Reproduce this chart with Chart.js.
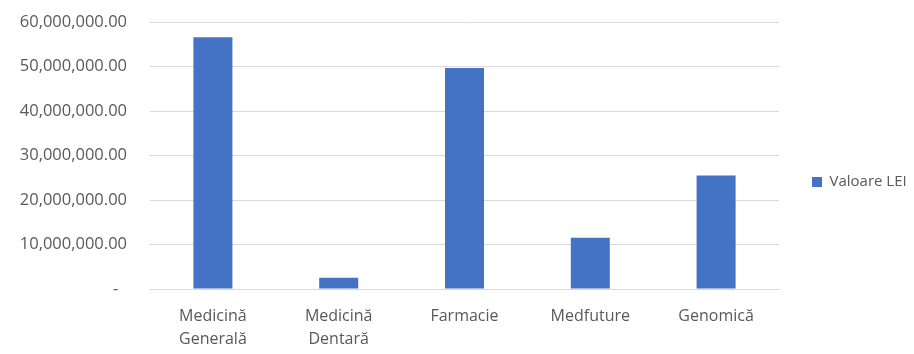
<!DOCTYPE html>
<html>
<head>
<meta charset="utf-8">
<script src="https://cdn.jsdelivr.net/npm/chart.js@4.4.0/dist/chart.umd.min.js"></script>
<style>
  html, body { margin: 0; padding: 0; background: #fff; }
  #wrap { width: 914px; height: 354px; }
</style>
</head>
<body>
<div id="wrap"><canvas id="c"></canvas></div>
<script>
const categories = [['Medicină', 'Generală'], ['Medicină', 'Dentară'], 'Farmacie', 'Medfuture', 'Genomică'];
const valoareLei = [56600000, 2540000, 49650000, 11500000, 25500000];
const yTicks = { min: 0, max: 60000000, step: 10000000 };

const fmt = v => v === 0 ? '-  ' : v.toLocaleString('en-US', { minimumFractionDigits: 2, maximumFractionDigits: 2 });

Chart.defaults.font.family = '"Open Sans", sans-serif';
Chart.defaults.color = '#595959';

// keep the legend column a fixed width so the plot ends where the reference does,
// and nudge it up a little to sit at the reference's height
const legendPlace = {
    id: 'legendPlace',
    beforeLayout(chart) {
        const lg = chart.legend;
        if (lg && !lg._patched) {
            const fit = lg.fit;
            lg.fit = function () { fit.call(this); this.width = 135; };
            lg._patched = true;
        }
    },
    afterLayout(chart) {
        const lg = chart.legend;
        if (lg) { lg.top -= 6; lg.bottom -= 6; }
    }
};

new Chart(document.getElementById('c'), {
    type: 'bar',
    data: {
        labels: categories,
        datasets: [{
            label: 'Valoare LEI',
            data: valoareLei,
            backgroundColor: '#4472C4',
            categoryPercentage: 1,
            barPercentage: 0.31
        }]
    },
    options: {
        responsive: true,
        maintainAspectRatio: false,
        animation: false,
        layout: { padding: { top: 22, right: 0, bottom: 0, left: 0 } },
        plugins: {
            legend: {
                position: 'right',
                labels: {
                    boxWidth: 10,
                    boxHeight: 10,
                    padding: 33,
                    font: { size: 15 },
                    color: '#595959'
                }
            },
            tooltip: { enabled: false }
        },
        scales: {
            x: {
                grid: { display: false, drawTicks: false },
                border: { color: '#d9d9d9' },
                ticks: { font: { size: 16, lineHeight: 1.45 }, padding: 16, maxRotation: 0 },
                afterFit: s => { s.height = 65; }
            },
            y: {
                min: yTicks.min,
                max: yTicks.max,
                grid: { color: '#d9d9d9', drawTicks: false },
                border: { display: false },
                ticks: {
                    stepSize: yTicks.step,
                    font: { size: 16.5 },
                    padding: 23,
                    callback: fmt
                },
                afterFit: s => { s.width = 150; s.paddingTop = 0; s.paddingBottom = 0; }
            }
        }
    },
    plugins: [legendPlace]
});
</script>
</body>
</html>
